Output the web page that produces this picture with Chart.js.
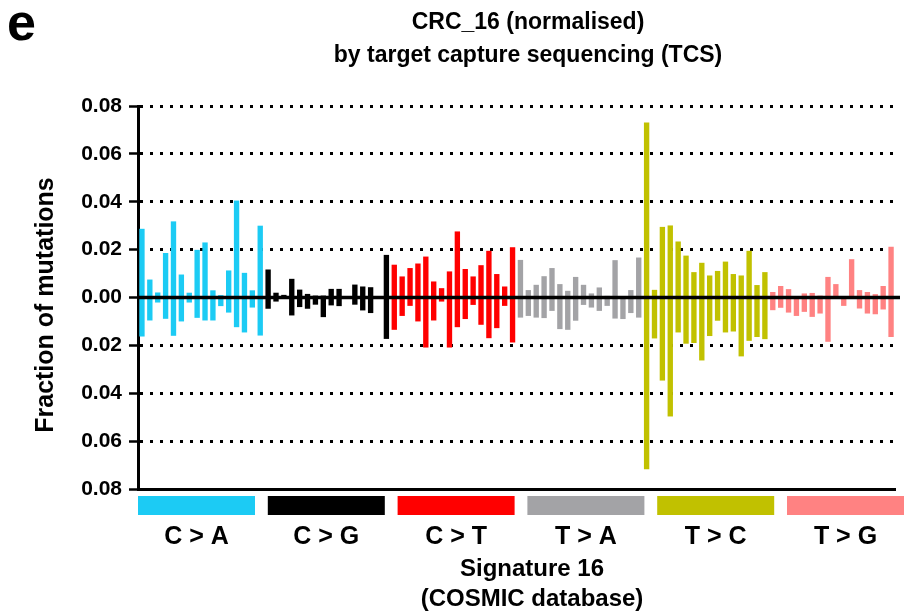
<!DOCTYPE html>
<html>
<head>
<meta charset="utf-8">
<script src="https://cdn.jsdelivr.net/npm/chart.js@4.4.1/dist/chart.umd.min.js"></script>
<style>
  html, body { margin: 0; padding: 0; background: #fff; }
  canvas { display: block; }
</style>
</head>
<body>
<canvas id="myChart" width="910" height="612"></canvas>
<script>
// Tipos de sustitución y sus colores
const mutationTypes = ['C > A', 'C > G', 'C > T', 'T > A', 'T > C', 'T > G'];
const typeColors = ['#1CCBF4', '#000000', '#FF0000', '#A3A3A6', '#C1C100', '#FF8282'];
const bases = ['A', 'C', 'G', 'T'];

// Fracción de mutaciones (parte superior)
const upCA = [0.0287, 0.0075, 0.0021, 0.0186, 0.0318, 0.0096, 0.0020, 0.0199, 0.0230, 0.0030, 0.0010, 0.0113, 0.0405, 0.0103, 0.0030, 0.0300];
const upCG = [0.0117, 0.0020, 0.0011, 0.0078, 0.0033, 0.0015, 0.0008, 0.0008, 0.0036, 0.0036, 0.0005, 0.0054, 0.0046, 0.0043, 0.0005, 0.0178];
const upCT = [0.0137, 0.0088, 0.0123, 0.0142, 0.0171, 0.0067, 0.0039, 0.0109, 0.0276, 0.0119, 0.0088, 0.0135, 0.0195, 0.0098, 0.0046, 0.0210];
const upTA = [0.0157, 0.0031, 0.0053, 0.0089, 0.0123, 0.0056, 0.0028, 0.0086, 0.0053, 0.0017, 0.0042, 0.0007, 0.0156, 0.0005, 0.0031, 0.0167];
const upTC = [0.0731, 0.0032, 0.0295, 0.0301, 0.0234, 0.0175, 0.0106, 0.0145, 0.0092, 0.0111, 0.0150, 0.0098, 0.0092, 0.0195, 0.0052, 0.0106];
const upTG = [0.0023, 0.0048, 0.0035, 0.0005, 0.0017, 0.0019, 0.0008, 0.0086, 0.0056, 0.0005, 0.0160, 0.0031, 0.0023, 0.0014, 0.0048, 0.0212];

// Fracción de mutaciones (parte inferior, Signature 16)
const downCA = [0.0163, 0.0096, 0.0021, 0.0089, 0.0160, 0.0100, 0.0021, 0.0085, 0.0096, 0.0096, 0.0036, 0.0063, 0.0124, 0.0146, 0.0042, 0.0159];
const downCG = [0.0047, 0.0017, 0.0006, 0.0075, 0.0040, 0.0047, 0.0030, 0.0082, 0.0033, 0.0036, 0.0005, 0.0030, 0.0054, 0.0065, 0.0005, 0.0173];
const downCT = [0.0135, 0.0077, 0.0035, 0.0100, 0.0209, 0.0096, 0.0017, 0.0209, 0.0124, 0.0090, 0.0031, 0.0114, 0.0170, 0.0128, 0.0035, 0.0188];
const downTA = [0.0084, 0.0077, 0.0084, 0.0086, 0.0056, 0.0132, 0.0135, 0.0097, 0.0031, 0.0042, 0.0056, 0.0035, 0.0088, 0.0090, 0.0065, 0.0084];
const downTC = [0.0717, 0.0171, 0.0347, 0.0497, 0.0146, 0.0193, 0.0190, 0.0263, 0.0161, 0.0097, 0.0146, 0.0142, 0.0246, 0.0181, 0.0165, 0.0174];
const downTG = [0.0053, 0.0043, 0.0063, 0.0077, 0.0060, 0.0081, 0.0067, 0.0185, 0.0005, 0.0035, 0.0005, 0.0046, 0.0067, 0.0070, 0.0050, 0.0165];

// Ticks del eje Y
const yTicks = [-0.08, -0.06, -0.04, -0.02, 0, 0.02, 0.04, 0.06, 0.08];

// Categorías: contexto trinucleótido, p.ej. A[C>A]A
const categories = [];
mutationTypes.forEach(t => {
    const sub = t.replace(/ /g, '');
    bases.forEach(b5 => bases.forEach(b3 => categories.push(b5 + '[' + sub + ']' + b3)));
});

const upValues = [].concat(upCA, upCG, upCT, upTA, upTC, upTG);
const downValues = [].concat(downCA, downCG, downCT, downTA, downTC, downTG).map(v => -v);
const barColors = categories.map((c, i) => typeColors[Math.floor(i / 16)]);

const FONT = '"Liberation Sans", Arial, sans-serif';

// Plugin: línea del cero, barras de color, etiquetas y títulos
const decorPlugin = {
    id: 'decorPlugin',
    afterDatasetsDraw: (chart) => {
        const ctx = chart.ctx;
        const area = chart.chartArea;
        const y0 = chart.scales.y.getPixelForValue(0);
        ctx.save();
        ctx.strokeStyle = '#000';
        ctx.lineWidth = 3.5;
        ctx.beginPath();
        ctx.moveTo(area.left, y0);
        ctx.lineTo(area.right + 5, y0);
        ctx.stroke();
        ctx.restore();
    },
    afterDraw: (chart) => {
        const ctx = chart.ctx;
        const area = chart.chartArea;
        ctx.save();
        ctx.fillStyle = '#000';

        // letra del panel
        ctx.font = 'bold 52px ' + FONT;
        ctx.textAlign = 'left';
        ctx.textBaseline = 'alphabetic';
        ctx.fillText('e', 7, 40);

        // título
        ctx.font = 'bold 23px ' + FONT;
        ctx.textAlign = 'center';
        ctx.fillText('CRC_16 (normalised)', 528, 29);
        ctx.fillText('by target capture sequencing (TCS)', 528, 62);

        // título eje Y
        ctx.save();
        ctx.translate(46, 305);
        ctx.rotate(-Math.PI / 2);
        ctx.font = 'bold 25px ' + FONT;
        ctx.textBaseline = 'middle';
        ctx.fillText('Fraction of mutations', 0, 0);
        ctx.restore();

        // barras de color bajo el eje X
        const stripW = 117;
        const step = (787 - area.left) / 5;
        mutationTypes.forEach((t, g) => {
            const x0 = area.left + g * step;
            ctx.fillStyle = typeColors[g];
            ctx.fillRect(x0, 496, stripW, 19);
            ctx.fillStyle = '#000';
            ctx.font = 'bold 25px ' + FONT;
            ctx.textAlign = 'center';
            ctx.fillText(t, x0 + stripW / 2, 544);
        });

        ctx.font = 'bold 24px ' + FONT;
        ctx.fillText('Signature 16', 532, 576);
        ctx.fillText('(COSMIC database)', 532, 606);
        ctx.restore();
    }
};

const ctx = document.getElementById('myChart').getContext('2d');
new Chart(ctx, {
    type: 'bar',
    data: {
        labels: categories,
        datasets: [{
            label: 'CRC_16',
            data: upValues,
            backgroundColor: barColors,
            barPercentage: 0.68,
            categoryPercentage: 1
        }, {
            label: 'Signature 16',
            data: downValues,
            backgroundColor: barColors,
            barPercentage: 0.68,
            categoryPercentage: 1
        }]
    },
    options: {
        responsive: false,
        animation: false,
        devicePixelRatio: 1,
        layout: {
            padding: { top: 106, right: 15, bottom: 123, left: 0 }
        },
        scales: {
            x: {
                stacked: true,
                grid: { display: false },
                ticks: { display: false },
                border: { display: true, color: '#000', width: 3 },
                afterFit: (scale) => { scale.height = 0; }
            },
            y: {
                stacked: true,
                min: yTicks[0],
                max: yTicks[yTicks.length - 1],
                afterBuildTicks: (scale) => {
                    scale.ticks = yTicks.map(v => ({ value: v }));
                },
                afterFit: (scale) => { scale.width = 138; },
                ticks: {
                    color: '#000',
                    padding: 7,
                    font: { family: FONT, size: 21, weight: 'bold' },
                    callback: (v) => Math.abs(v).toFixed(2)
                },
                grid: {
                    color: (c) => (c.tick && Math.abs(c.tick.value) < 1e-9) ? 'rgba(0,0,0,0)' : '#000',
                    lineWidth: 3,
                    tickLength: 9,
                    tickWidth: 2.5,
                    tickColor: '#000',
                    tickBorderDash: []
                },
                border: { display: true, color: '#000', width: 3, dash: [3, 7] }
            }
        },
        plugins: {
            legend: { display: false },
            tooltip: { enabled: false },
            title: { display: false }
        }
    },
    plugins: [decorPlugin]
});
</script>
</body>
</html>
